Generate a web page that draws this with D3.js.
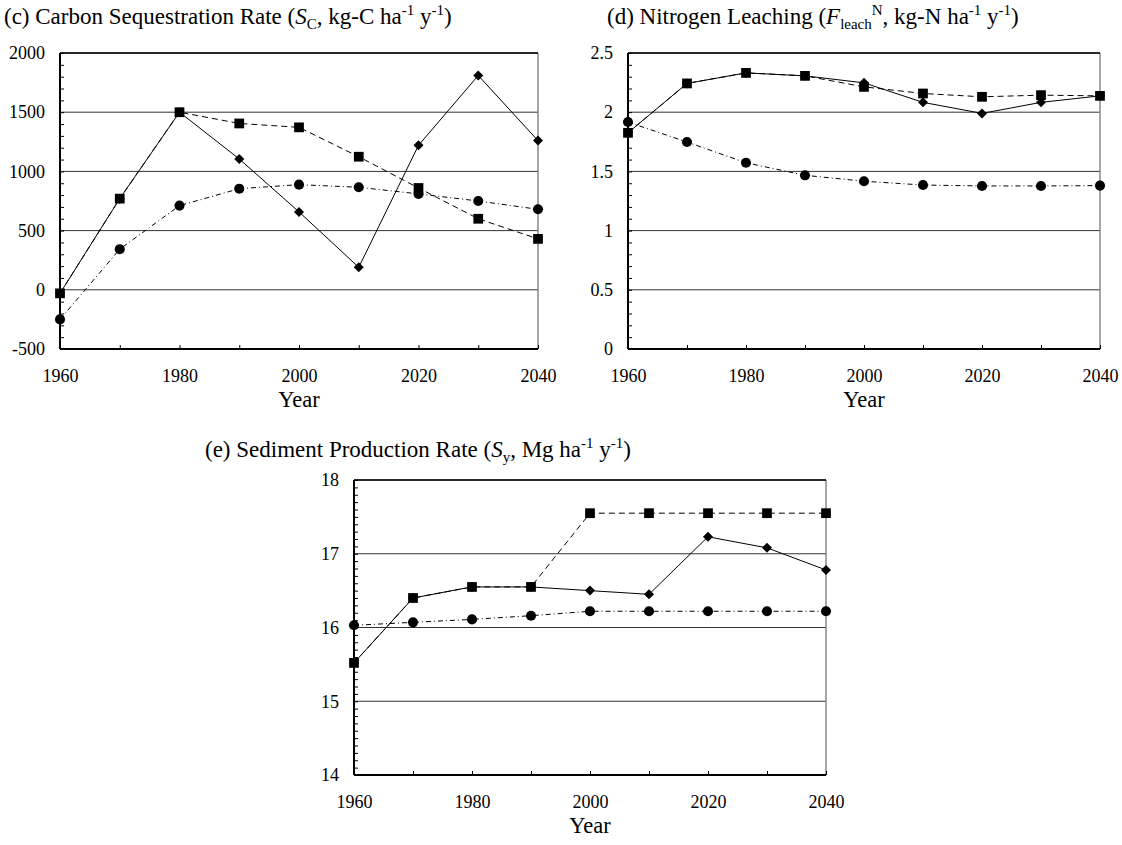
<!DOCTYPE html>
<html>
<head>
<meta charset="utf-8">
<script src="https://cdn.jsdelivr.net/npm/d3@7/dist/d3.min.js"></script>
<style>
  html, body { margin: 0; padding: 0; background: #fff; }
  svg text { font-family: "Liberation Serif", "Times New Roman", serif; fill: #000; }
</style>
</head>
<body>
<svg id="chart" width="1122" height="845"></svg>
<script>
  "use strict";

  var serif = "'Liberation Serif', 'Times New Roman', serif";

  // years on the x axis
  var years = [1960, 1970, 1980, 1990, 2000, 2010, 2020, 2030, 2040];
  var yearLabels = [1960, 1980, 2000, 2020, 2040];

  // (c) carbon sequestration rate
  var cDiamond = [-30, 770, 1500, 1105, 658, 190, 1220, 1810, 1260];
  var cSquare  = [-30, 770, 1500, 1405, 1372, 1124, 860, 600, 430];
  var cCircle  = [-250, 343, 711, 854, 888, 866, 810, 750, 680];
  var cMajor = [-500, 0, 500, 1000, 1500, 2000];

  // (d) nitrogen leaching
  var dDiamond = [1.826, 2.243, 2.332, 2.307, 2.248, 2.083, 1.99, 2.083, 2.138];
  var dSquare  = [1.826, 2.243, 2.332, 2.307, 2.214, 2.158, 2.13, 2.144, 2.138];
  var dCircle  = [1.917, 1.748, 1.573, 1.467, 1.417, 1.385, 1.377, 1.377, 1.38];
  var dMajor = [0, 0.5, 1, 1.5, 2, 2.5];

  // (e) sediment production rate
  var eDiamond = [15.52, 16.40, 16.55, 16.55, 16.50, 16.45, 17.23, 17.08, 16.78];
  var eSquare  = [15.52, 16.40, 16.55, 16.55, 17.55, 17.55, 17.55, 17.55, 17.55];
  var eCircle  = [16.03, 16.07, 16.11, 16.16, 16.22, 16.22, 16.22, 16.22, 16.22];
  var eMajor = [14, 15, 16, 17, 18];

  var svg = d3.select("#chart");

  function drawPanel(opt) {
    var g = svg.append("g").attr("transform", "translate(" + opt.left + "," + opt.top + ")");
    var w = opt.width, h = opt.height;

    var x = d3.scaleLinear().domain([1960, 2040]).range([0, w]);
    var y = d3.scaleLinear().domain(opt.domain).range([h, 0]);

    // grid lines at major values
    g.selectAll("line.grid").data(opt.major).enter().append("line")
      .attr("class", "grid")
      .attr("x1", 0).attr("x2", w)
      .attr("y1", function(d) { return y(d); })
      .attr("y2", function(d) { return y(d); })
      .attr("stroke", "#333").attr("stroke-width", 1);

    // right border (grey) and top border
    g.append("line").attr("x1", w).attr("x2", w).attr("y1", 0).attr("y2", h)
      .attr("stroke", "#777").attr("stroke-width", 1.3);
    g.append("line").attr("x1", 0).attr("x2", w).attr("y1", 0).attr("y2", 0)
      .attr("stroke", "#000").attr("stroke-width", 1.5);

    // minor ticks, inside, on the left
    var minor = d3.range(opt.domain[0], opt.domain[1] + opt.minorStep / 2, opt.minorStep);
    g.append("g")
      .call(d3.axisRight(y).tickValues(minor).tickSize(4).tickFormat(""))
      .call(function(s) { s.select(".domain").remove(); s.selectAll("line").attr("stroke", "#000"); });

    // y labels
    g.append("g")
      .call(d3.axisLeft(y).tickValues(opt.major).tickSize(0).tickPadding(15)
        .tickFormat(function(d) { return String(d); }))
      .attr("font-family", serif).attr("font-size", 18)
      .call(function(s) {
        s.select(".domain").remove();
        s.selectAll("text").attr("fill", "#000").style("font-family", serif).style("font-size", "18px");
      });

    // x ticks inside
    g.append("g").attr("transform", "translate(0," + h + ")")
      .call(d3.axisTop(x).tickValues(years).tickSize(4).tickFormat(""))
      .call(function(s) { s.select(".domain").remove(); s.selectAll("line").attr("stroke", "#000"); });

    // x labels
    g.append("g").attr("transform", "translate(0," + h + ")")
      .call(d3.axisBottom(x).tickValues(yearLabels).tickSize(0).tickPadding(33)
        .tickFormat(function(d) { return String(d); }))
      .attr("font-family", serif).attr("font-size", 18)
      .call(function(s) {
        s.select(".domain").remove();
        s.selectAll("text").attr("dy", "0").attr("fill", "#000")
          .style("font-family", serif).style("font-size", "18px");
      });

    // axis lines
    g.append("line").attr("x1", 0).attr("x2", 0).attr("y1", 0).attr("y2", h)
      .attr("stroke", "#000").attr("stroke-width", 2);
    g.append("line").attr("x1", 0).attr("x2", w).attr("y1", h).attr("y2", h)
      .attr("stroke", "#000").attr("stroke-width", 2);

    g.append("text").attr("x", w / 2).attr("y", h + 58)
      .attr("text-anchor", "middle").style("font-size", "22.5px").text("Year");

    var line = d3.line().x(function(d, i) { return x(years[i]); }).y(function(d) { return y(d); });

    var series = [
      { vals: opt.circle, dash: "5,3,1,3", mark: "circle" },
      { vals: opt.diamond, dash: null, mark: "diamond" },
      { vals: opt.square, dash: "6,4", mark: "square" }
    ];

    series.forEach(function(s) {
      g.append("path").datum(s.vals).attr("d", line)
        .attr("fill", "none").attr("stroke", "#000").attr("stroke-width", 1)
        .attr("stroke-dasharray", s.dash);
    });

    series.forEach(function(s) {
      var sym = s.mark === "circle" ? d3.symbolCircle : d3.symbolSquare;
      var size = s.mark === "circle" ? 80 : (s.mark === "square" ? 95 : 50);
      var rot = s.mark === "diamond" ? " rotate(45)" : "";
      g.selectAll("path." + s.mark).data(s.vals).enter().append("path")
        .attr("class", s.mark)
        .attr("d", d3.symbol().type(sym).size(size))
        .attr("transform", function(d, i) { return "translate(" + x(years[i]) + "," + y(d) + ")" + rot; })
        .attr("fill", "#000");
    });
  }

  function title(xPos, yPos, parts) {
    var t = svg.append("text").attr("x", xPos).attr("y", yPos).style("font-size", "23px");
    parts.forEach(function(p) {
      var ts = t.append("tspan").text(p.t);
      if (p.italic) ts.style("font-style", "italic");
      if (p.sub) ts.attr("dy", 5).style("font-size", "15px");
      if (p.sup) ts.attr("dy", p.dy || -9).style("font-size", "15px");
      if (p.back) ts.attr("dy", p.back);
    });
  }

  title(4, 24, [
    { t: "(c) Carbon Sequestration Rate (" },
    { t: "S", italic: true },
    { t: "C", sub: true },
    { t: ", kg-C ha", back: -5 },
    { t: "-1", sup: true },
    { t: " y", back: 9 },
    { t: "-1", sup: true },
    { t: ")", back: 9 }
  ]);

  title(607, 24, [
    { t: "(d) Nitrogen Leaching (" },
    { t: "F", italic: true },
    { t: "leach", sub: true },
    { t: "N", sup: true, dy: -14 },
    { t: ", kg-N ha", back: 9 },
    { t: "-1", sup: true },
    { t: " y", back: 9 },
    { t: "-1", sup: true },
    { t: ")", back: 9 }
  ]);

  title(205, 457, [
    { t: "(e) Sediment Production Rate (" },
    { t: "S", italic: true },
    { t: "y", sub: true },
    { t: ", Mg ha", back: -5 },
    { t: "-1", sup: true },
    { t: " y", back: 9 },
    { t: "-1", sup: true },
    { t: ")", back: 9 }
  ]);

  drawPanel({ left: 60, top: 53, width: 478, height: 296, domain: [-500, 2000], major: cMajor, minorStep: 100,
    diamond: cDiamond, square: cSquare, circle: cCircle });
  drawPanel({ left: 628, top: 53, width: 472, height: 296, domain: [0, 2.5], major: dMajor, minorStep: 0.1,
    diamond: dDiamond, square: dSquare, circle: dCircle });
  drawPanel({ left: 354, top: 480, width: 472, height: 295, domain: [14, 18], major: eMajor, minorStep: 0.1,
    diamond: eDiamond, square: eSquare, circle: eCircle });
</script>
</body>
</html>
